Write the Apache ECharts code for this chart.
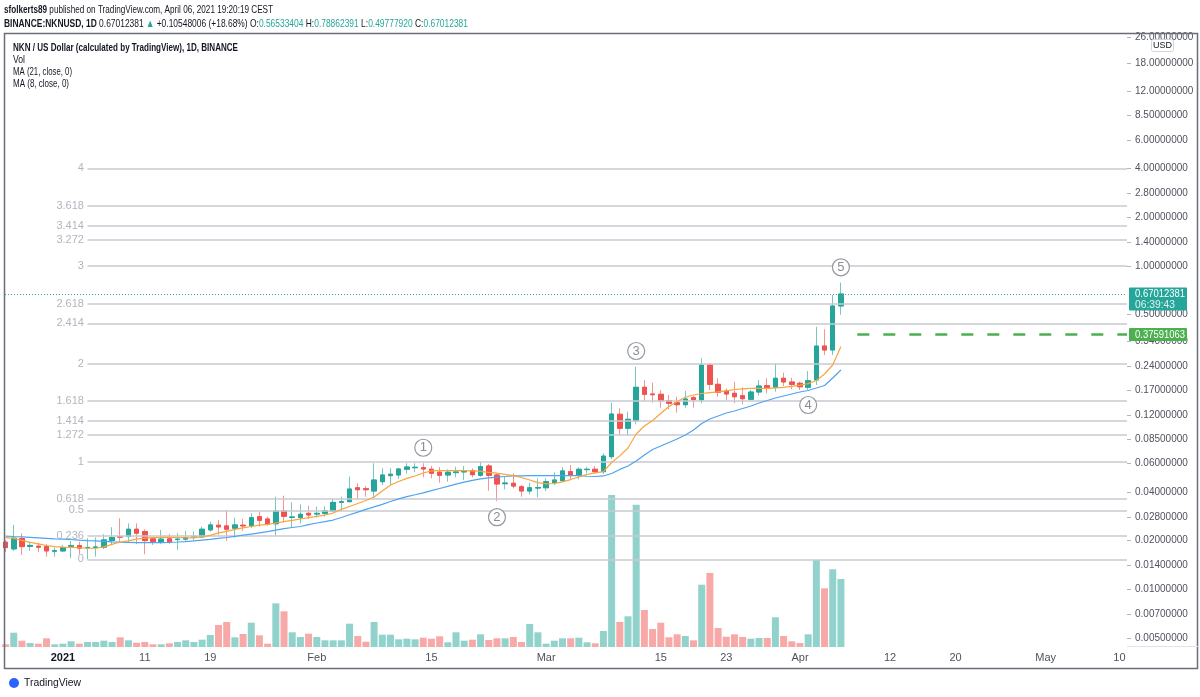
<!DOCTYPE html>
<html><head><meta charset="utf-8">
<script src="https://cdn.jsdelivr.net/npm/echarts@6/dist/echarts.min.js"></script>
<style>html,body{margin:0;padding:0;background:#fff;}#c{width:1200px;height:697px;}</style>
</head><body><div id="c"></div>
<script>
// ---------------- DATA ----------------
const firstDate = '2020-12-25'; // one candle per day from here
const opens = [0.01955,0.01777,0.02060,0.01841,0.01846,0.01836,0.01719,0.01726,0.01846,0.01862,
0.01802,0.01810,0.01820,0.02000,0.02119,0.02119,0.02352,0.02275,0.02051,0.01971,
0.02051,0.02029,0.02042,0.02110,0.02110,0.02330,0.02489,0.02465,0.02386,0.02489,
0.02475,0.02810,0.02721,0.02543,0.03046,0.02787,0.02772,0.02948,0.02919,0.02948,
0.03046,0.03446,0.03480,0.04244,0.04185,0.04052,0.04627,0.05040,0.05090,0.05523,
0.05649,0.05649,0.05523,0.05295,0.05090,0.05265,0.05317,0.05416,0.05068,0.05787,
0.05090,0.04497,0.04522,0.04305,0.04052,0.04226,0.04244,0.04561,0.04690,0.05339,
0.05090,0.05493,0.05523,0.05339,0.06608,0.12080,0.09900,0.11030,0.17740,0.16130,
0.16060,0.14660,0.14250,0.13850,0.15300,0.14810,0.24370,0.18510,0.16830,0.16290,
0.15740,0.14960,0.16590,0.18150,0.17740,0.20170,0.19140,0.18780,0.17740,0.19690,
0.31940,0.30180,0.56533404];
const closes = [0.01810,0.02071,0.01836,0.01867,0.01820,0.01726,0.01733,0.01810,0.01862,0.01795,
0.01815,0.01828,0.02020,0.02089,0.02101,0.02352,0.02223,0.02000,0.01971,0.02042,
0.01971,0.02042,0.02089,0.02125,0.02352,0.02500,0.02430,0.02352,0.02500,0.02465,
0.02772,0.02669,0.02532,0.03046,0.02826,0.02799,0.02907,0.02880,0.02948,0.03059,
0.03446,0.03480,0.04167,0.04127,0.04127,0.04740,0.05090,0.05145,0.05546,0.05706,
0.05682,0.05546,0.05219,0.05068,0.05295,0.05317,0.05370,0.05116,0.05730,0.05068,
0.04478,0.04542,0.04348,0.04052,0.04244,0.04256,0.04627,0.04740,0.05393,0.05090,
0.05523,0.05523,0.05339,0.06660,0.12130,0.09900,0.11250,0.17740,0.16060,0.15970,
0.14660,0.14130,0.13850,0.15020,0.14870,0.24370,0.18510,0.16520,0.16130,0.15520,
0.15090,0.16590,0.18070,0.17630,0.20170,0.19140,0.18510,0.17890,0.19490,0.31940,
0.30180,0.56464375,0.67012381];
const lows = [0.01701,0.01726,0.01630,0.01726,0.01694,0.01592,0.01592,0.01694,0.01556,0.01647,
0.01532,0.01592,0.01769,0.01900,0.01971,0.01971,0.01900,0.01647,0.01880,0.01900,
0.01909,0.01750,0.01971,0.02000,0.02071,0.02275,0.02170,0.01992,0.02089,0.02297,
0.02386,0.02440,0.02465,0.02149,0.02594,0.02406,0.02557,0.02721,0.02772,0.02810,
0.03016,0.03046,0.03446,0.03603,0.03739,0.03686,0.04410,0.04410,0.04809,0.05190,
0.05295,0.04927,0.04858,0.04561,0.04627,0.04927,0.04740,0.04927,0.04970,0.04069,
0.03510,0.04149,0.04208,0.03739,0.03866,0.03707,0.04052,0.04410,0.04627,0.04788,
0.04788,0.05219,0.05219,0.05168,0.06369,0.08990,0.08900,0.10470,0.14460,0.14250,
0.13270,0.12970,0.12360,0.13270,0.13270,0.14130,0.17070,0.15520,0.14810,0.14130,
0.13930,0.14660,0.15740,0.16290,0.16660,0.18070,0.17240,0.17070,0.17070,0.18330,
0.28110,0.28110,0.49777920];
const highs = [0.02020,0.02500,0.02223,0.01971,0.01944,0.01900,0.01810,0.01880,0.01992,0.01971,
0.02071,0.02089,0.02192,0.02420,0.02748,0.02557,0.02557,0.02352,0.02101,0.02330,
0.02201,0.02223,0.02297,0.02275,0.02440,0.02616,0.02680,0.03090,0.02772,0.02721,
0.02948,0.03016,0.02810,0.03739,0.03792,0.03446,0.03349,0.03287,0.03241,0.03241,
0.03654,0.03739,0.04970,0.04523,0.04348,0.06011,0.05601,0.05601,0.05601,0.06011,
0.06011,0.06011,0.05787,0.05682,0.05523,0.05730,0.05787,0.05601,0.06160,0.05952,
0.05219,0.04970,0.05219,0.04410,0.04561,0.04858,0.04858,0.05295,0.05682,0.05870,
0.05682,0.05730,0.05787,0.06940,0.14250,0.13150,0.12530,0.23780,0.19690,0.18940,
0.17070,0.15900,0.15520,0.16830,0.15680,0.26810,0.24970,0.20170,0.17490,0.19220,
0.17740,0.17070,0.19690,0.20170,0.24970,0.21840,0.20350,0.19220,0.22380,0.42050,
0.40530,0.66030,0.78862391];
// volume, millions NKN
const volumes = [2.7,14.3,6.3,4.0,3.3,8.7,2.7,3.3,5.7,3.3,
5.0,5.0,6.3,5.0,9.7,6.7,4.3,5.0,2.7,2.7,
3.7,5.0,6.7,5.0,7.3,12.0,22.0,25.0,9.7,13.0,
24.3,11.7,3.3,43.7,35.7,14.7,10.0,13.3,10.0,6.7,
6.7,6.7,23.3,11.0,5.3,25.0,12.3,12.3,7.7,8.3,
7.7,9.3,8.3,10.7,4.7,14.7,6.3,7.3,12.7,7.0,
8.7,8.7,10.0,5.0,23.0,14.7,3.3,6.3,8.7,8.7,
9.3,4.7,3.7,16.0,152.0,25.0,30.7,142.3,37.0,18.0,
24.3,9.7,12.7,11.0,6.7,62.3,74.0,19.0,10.3,12.7,
10.0,8.3,9.0,9.0,29.7,11.0,5.7,4.0,12.7,87.0,
58.7,77.7,68.0];
const ma21 = [0.02134,0.02120,0.02110,0.02095,0.02080,0.02065,0.02050,0.02040,0.02032,0.02015,
0.02000,0.01990,0.01978,0.01966,0.01955,0.01950,0.01945,0.01945,0.01945,0.01945,
0.01950,0.01960,0.01972,0.01990,0.02015,0.02035,0.02065,0.02090,0.02125,0.02160,
0.02195,0.02230,0.02270,0.02320,0.02370,0.02410,0.02445,0.02510,0.02570,0.02620,
0.02680,0.02780,0.02890,0.03000,0.03120,0.03230,0.03350,0.03490,0.03620,0.03740,
0.03840,0.03950,0.04070,0.04200,0.04330,0.04470,0.04600,0.04720,0.04820,0.04890,
0.04940,0.04980,0.05020,0.05030,0.05040,0.05040,0.05040,0.05040,0.05040,0.05040,
0.05040,0.05000,0.04980,0.05020,0.05200,0.05510,0.05790,0.06210,0.06770,0.07320,
0.07690,0.08090,0.08500,0.08990,0.09660,0.10600,0.11300,0.11790,0.12310,0.12660,
0.13120,0.13600,0.14190,0.14700,0.15240,0.15680,0.16130,0.16590,0.16950,0.17570,
0.18200,0.20260,0.22700];
const ma8 = [0.02086,0.02065,0.02005,0.01950,0.01910,0.01865,0.01835,0.01820,0.01815,0.01806,
0.01796,0.01793,0.01830,0.01895,0.01960,0.01990,0.02040,0.02070,0.02086,0.02095,
0.02095,0.02090,0.02080,0.02080,0.02110,0.02155,0.02230,0.02280,0.02345,0.02400,
0.02445,0.02490,0.02520,0.02570,0.02620,0.02670,0.02720,0.02770,0.02820,0.02880,
0.02960,0.03120,0.03250,0.03390,0.03540,0.03720,0.04050,0.04410,0.04640,0.04850,
0.05020,0.05240,0.05390,0.05410,0.05410,0.05410,0.05410,0.05390,0.05360,0.05280,
0.05220,0.05130,0.05050,0.04910,0.04740,0.04570,0.04480,0.04510,0.04610,0.04770,
0.04950,0.05130,0.05240,0.05340,0.06080,0.06680,0.07480,0.09130,0.10230,0.11060,
0.12220,0.13500,0.14500,0.15390,0.15900,0.16250,0.16450,0.16640,0.16880,0.17200,
0.17370,0.17470,0.17490,0.17490,0.17620,0.17720,0.18000,0.18280,0.18710,0.19550,
0.21450,0.24370,0.31710];
// price axis tick labels
const priceTicks = [26, 18, 12, 8.5, 6, 4, 2.8, 2, 1.4, 1, 0.5, 0.34, 0.24, 0.17, 0.12,
  0.085, 0.06, 0.04, 0.028, 0.02, 0.014, 0.01, 0.007, 0.005];
// time axis tick labels
const timeTickDates = ['2021-01-01','2021-01-11','2021-01-19','2021-02-01','2021-02-15','2021-03-01',
  '2021-03-15','2021-03-23','2021-04-01','2021-04-12','2021-04-20','2021-05-01','2021-05-10'];
const timeTickLabels = ['2021','11','19','Feb','15','Mar','15','23','Apr','12','20','May','10'];
// trend-based fib extension (log scale), anchored on the Jan 4 low and wave-1 high
const fibLevels = [0, 0.236, 0.5, 0.618, 1, 1.272, 1.414, 1.618, 2, 2.414, 2.618, 3, 3.272, 3.414, 3.618, 4];
const fibStartDate = '2021-01-04';
const fibLowPrice = 0.01532;
const fibHighPrice = 0.0616;
// Elliott wave labels
const waveLabels = ['1', '2', '3', '4', '5'];
const waveDates = ['2021-02-14', '2021-02-23', '2021-03-12', '2021-04-02', '2021-04-06'];
const wavePrices = [0.0750, 0.0279, 0.2975, 0.1379, 0.980];
// horizontal target line
const targetDate = '2021-04-08';
const targetPrice = 0.37591063;

// ---------------- BUILD ----------------
const DAY = 86400000;
const ts = s => { const [y, m, d] = s.split('-').map(Number); return Date.UTC(y, m - 1, d); };
const t0 = ts(firstDate);
const times = opens.map((_, i) => t0 + i * DAY);
const tJan1 = ts('2021-01-01');
const xMin = tJan1 - 7.07 * DAY;
const xMax = tJan1 + 129.93 * DAY;
const yMin = 0.004395, yMax = 27.55;
const n = closes.length;
const lastClose = closes[n - 1];
const prevClose = closes[n - 2];
const fibPrice = l => fibLowPrice * Math.pow(fibHighPrice / fibLowPrice, l);
const timeTicks = timeTickDates.map(ts);

const FONT = "'Liberation Sans', Arial, sans-serif";
const UP = '#26a69a', DOWN = '#ef5350';
const UP_W = 'rgba(38,166,154,0.62)', DOWN_W = 'rgba(239,83,80,0.62)';

function fmtTime(v) {
  let best = 0, bd = Infinity;
  timeTicks.forEach((t, i) => { const d = Math.abs(t - v); if (d < bd) { bd = d; best = i; } });
  const lab = timeTickLabels[best];
  return /^\d{4}$/.test(lab) ? '{b|' + lab + '}' : lab;
}

const fibLines = fibLevels.map(l => [
  { coord: [ts(fibStartDate), fibPrice(l)],
    lineStyle: { color: '#c8cad0', width: 1.5, type: 'solid' },
    label: { show: true, position: 'start', distance: 3.5, formatter: String(l), color: '#b2b5be', fontSize: 11, fontFamily: FONT } },
  { coord: [xMax, fibPrice(l)] }
]);

const chart = echarts.init(document.getElementById('c'), null, { renderer: 'canvas' });
const option = {
  animation: false,
  backgroundColor: '#ffffff',
  grid: [
    { left: 5, right: 73, top: 33, height: 614 },
    { left: 5, right: 73, top: 447, height: 200 }
  ],
  xAxis: [
    { type: 'value', gridIndex: 0, min: xMin, max: xMax, show: false },
    { type: 'value', gridIndex: 1, min: xMin, max: xMax,
      axisLine: { show: false }, axisTick: { show: false }, splitLine: { show: false },
      axisLabel: { customValues: timeTicks, formatter: fmtTime, color: '#50535e', fontSize: 11, fontFamily: FONT, margin: 5,
        rich: { b: { fontWeight: 'bold', color: '#131722', fontSize: 11, fontFamily: FONT } } } }
  ],
  yAxis: [
    { type: 'log', logBase: 10, gridIndex: 0, position: 'right', min: yMin, max: yMax,
      axisLine: { show: false }, splitLine: { show: false },
      axisTick: { show: true, customValues: priceTicks, length: 4, lineStyle: { color: '#b2b5be' } },
      axisLabel: { customValues: priceTicks, formatter: v => Number(v).toFixed(8), color: '#50535e', fontSize: 10, fontFamily: FONT, margin: 8 } },
    { type: 'value', gridIndex: 1, min: 0, max: 200, show: false }
  ],
  series: [
    { type: 'bar', name: 'Vol', xAxisIndex: 1, yAxisIndex: 1, barWidth: 7, silent: true, z: 1,
      data: times.map((t, i) => ({ value: [t, volumes[i]],
        itemStyle: { color: closes[i] >= opens[i] ? 'rgba(38,166,154,0.5)' : 'rgba(239,83,80,0.5)' } })) },
    // wicks (full candles in light colour)
    { type: 'candlestick', name: 'wicks', xAxisIndex: 0, yAxisIndex: 0, barWidth: 5, z: 3, silent: true,
      encode: { x: 0, y: [1, 2, 3, 4] },
      data: times.map((t, i) => [t, opens[i], closes[i], lows[i], highs[i]]),
      itemStyle: { color: UP_W, color0: DOWN_W, borderColor: UP_W, borderColor0: DOWN_W, borderWidth: 1 },
      markLine: { silent: true, symbol: ['none', 'none'], animation: false,
        data: fibLines.concat([
          [ { coord: [ts(targetDate), targetPrice], lineStyle: { color: '#4caf50', width: 2.5, type: [12, 14] }, label: { show: false } },
            { coord: [xMax, targetPrice] } ],
          { yAxis: lastClose, lineStyle: { color: UP, width: 1, type: [1, 2] }, label: { show: false } }
        ]) } },
    // bodies in full colour
    { type: 'candlestick', name: 'NKNUSD', xAxisIndex: 0, yAxisIndex: 0, barWidth: 5, z: 4, silent: true,
      encode: { x: 0, y: [1, 2, 3, 4] },
      data: times.map((t, i) => [t, opens[i], closes[i], Math.min(opens[i], closes[i]), Math.max(opens[i], closes[i])]),
      itemStyle: { color: UP, color0: DOWN, borderColor: UP, borderColor0: DOWN, borderWidth: 1 } },
    { type: 'line', name: 'MA21', xAxisIndex: 0, yAxisIndex: 0, showSymbol: false, silent: true, z: 5,
      lineStyle: { color: '#4fa3f0', width: 1.2 }, data: times.map((t, i) => [t, ma21[i]]) },
    { type: 'line', name: 'MA8', xAxisIndex: 0, yAxisIndex: 0, showSymbol: false, silent: true, z: 5,
      lineStyle: { color: '#f8a53c', width: 1.2 }, data: times.map((t, i) => [t, ma8[i]]) },
    { type: 'scatter', name: 'Waves', xAxisIndex: 0, yAxisIndex: 0, symbol: 'circle', symbolSize: 17, z: 6, silent: true,
      itemStyle: { color: '#ffffff', borderColor: '#9598a1', borderWidth: 1.2, opacity: 1 },
      label: { show: true, position: 'inside', formatter: p => p.data[2], color: '#8a8d96', fontSize: 13, fontFamily: FONT },
      data: waveDates.map((d, i) => [ts(d), wavePrices[i], waveLabels[i]]) }
  ]
};
chart.setOption(option);

// ---------------- TEXT / DECORATION ----------------
const mctx = document.createElement('canvas').getContext('2d');
function textLine(segs, x, y, width, size, z) {
  const els = [];
  const fonts = segs.map(s => (s.bold ? 'bold ' : '') + size + 'px ' + FONT);
  let total = 0;
  const ws = segs.map((s, i) => { mctx.font = fonts[i]; const w = mctx.measureText(s.t).width; total += w; return w; });
  const k = width ? width / total : 1;
  let acc = 0;
  segs.forEach((s, i) => {
    els.push({ type: 'text', x: x + acc * k, y: y, scaleX: k, z: z || 100, silent: true,
      style: { text: s.t, fill: s.c || '#131722', font: fonts[i], align: 'left', verticalAlign: 'middle',
               textAlign: 'left', textVerticalAlign: 'middle' } });
    acc += ws[i];
  });
  return els;
}
const f8 = v => v.toFixed(8);
const chg = lastClose - prevClose;
const pct = chg / prevClose * 100;
const g = [];
g.push(...textLine([{ t: 'sfolkerts89', bold: true }, { t: ' published on TradingView.com, April 06, 2021 19:20:19 CEST' }], 4, 9.5, 269, 11));
g.push(...textLine([
  { t: 'BINANCE:NKNUSD, 1D', bold: true }, { t: ' ' + f8(lastClose) + ' ' }, { t: '▲', c: UP },
  { t: ' +' + f8(chg) + ' (+' + pct.toFixed(2) + '%) ' }, { t: 'O:' }, { t: f8(opens[n - 1]), c: UP },
  { t: ' H:' }, { t: f8(highs[n - 1]), c: UP }, { t: ' L:' }, { t: f8(lows[n - 1]), c: UP },
  { t: ' C:' }, { t: f8(lastClose), c: UP }], 4, 23.5, 464, 11));
g.push(...textLine([{ t: 'NKN / US Dollar (calculated by TradingView), 1D, BINANCE', bold: true }], 13, 47.5, 225, 11));
g.push(...textLine([{ t: 'Vol' }], 13, 59.5, 12, 11));
g.push(...textLine([{ t: 'MA (21, close, 0)' }], 13, 71.5, 59, 11));
g.push(...textLine([{ t: 'MA (8, close, 0)' }], 13, 83.5, 56, 11));
// frame
g.push({ type: 'rect', z: 90, silent: true, shape: { x: 4.5, y: 33.5, width: 1193, height: 635 }, style: { fill: null, stroke: '#6a6d78', lineWidth: 1.5 } });
g.push({ type: 'line', z: 90, silent: true, shape: { x1: 1127, y1: 646.5, x2: 1198, y2: 646.5 }, style: { stroke: '#e0e3eb', lineWidth: 1 } });
// USD badge
g.push({ type: 'rect', z: 101, silent: true, shape: { x: 1151.5, y: 39.5, width: 22, height: 12, r: 2 }, style: { fill: '#ffffff', stroke: '#d1d4dc', lineWidth: 1 } });
g.push({ type: 'text', z: 102, silent: true, x: 1162.5, y: 46, style: { text: 'USD', fill: '#131722', font: '9px ' + FONT, align: 'center', verticalAlign: 'middle', textAlign: 'center', textVerticalAlign: 'middle' } });
// price badges
const yLast = chart.convertToPixel({ gridIndex: 0 }, [xMin, lastClose])[1];
const yTgt = chart.convertToPixel({ gridIndex: 0 }, [xMin, targetPrice])[1];
g.push({ type: 'rect', z: 101, silent: true, shape: { x: 1129, y: yLast - 6.5, width: 58, height: 23, r: 1 }, style: { fill: UP } });
g.push(...textLine([{ t: f8(lastClose), c: '#ffffff' }], 1135, yLast, 50, 11, 102));
g.push(...textLine([{ t: '06:39:43', c: '#e0f2f0' }], 1135, yLast + 11, 40, 11, 102));
g.push({ type: 'rect', z: 101, silent: true, shape: { x: 1129, y: yTgt - 6.5, width: 58, height: 13, r: 1 }, style: { fill: '#4caf50' } });
g.push(...textLine([{ t: f8(targetPrice), c: '#ffffff' }], 1135, yTgt, 50, 11, 102));
// TradingView footer
g.push({ type: 'circle', z: 100, silent: true, shape: { cx: 14, cy: 683, r: 5 }, style: { fill: '#2962ff' } });
g.push(...textLine([{ t: 'TradingView' }], 24, 683, 57, 11));
chart.setOption({ graphic: g });
</script>
</body></html>
